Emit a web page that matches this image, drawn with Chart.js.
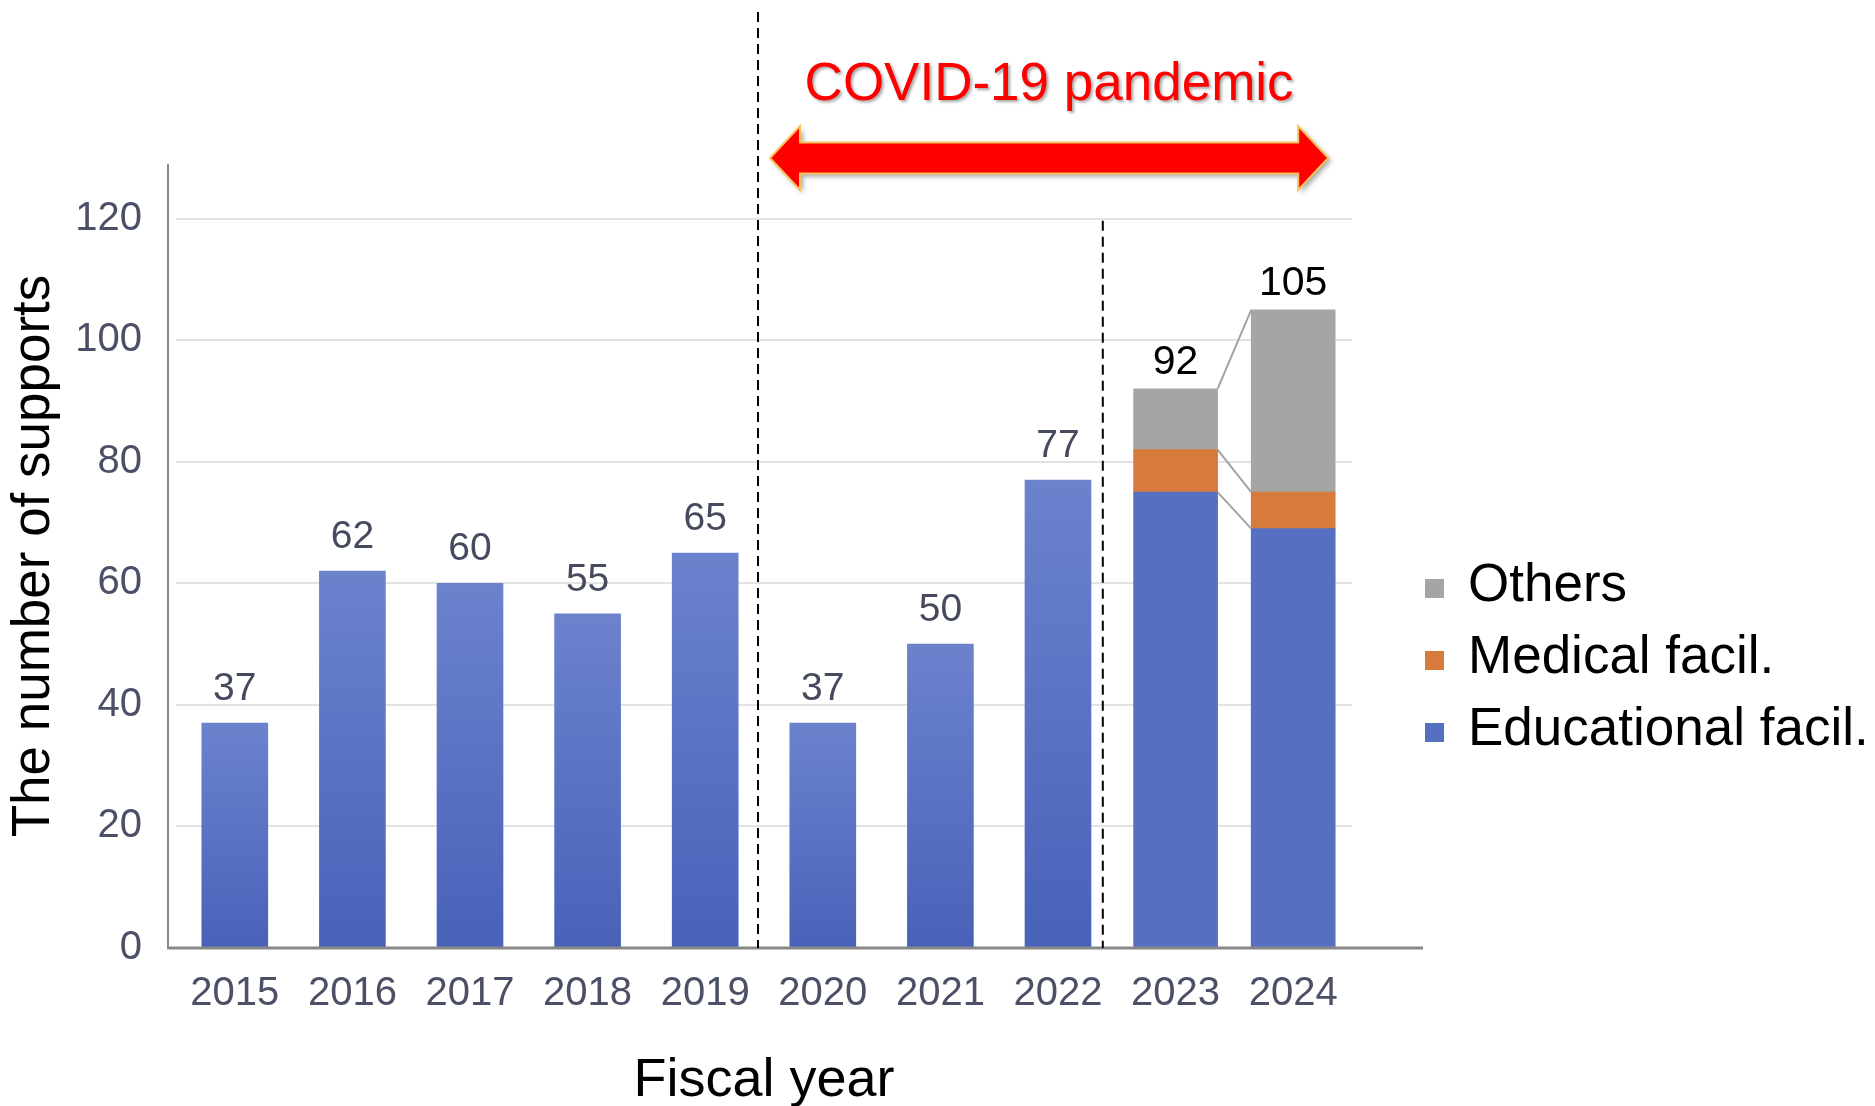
<!DOCTYPE html>
<html>
<head>
<meta charset="utf-8">
<script src="https://cdn.jsdelivr.net/npm/chart.js@4.4.1/dist/chart.umd.min.js"></script>
<style>
  html, body { margin:0; padding:0; background:#fff; }
  #wrap { position:relative; width:1875px; height:1106px; }
  #legend { position:absolute; left:1425px; top:547px; font-family:"Liberation Sans", Arial, sans-serif; }
  #legend .row { display:flex; align-items:center; height:72px; font-size:53px; line-height:72px; color:#000; white-space:nowrap; }
  #legend .box { width:19px; height:19px; margin-right:24px; margin-top:10px; flex:none; }
</style>
</head>
<body>
<div id="wrap">
  <canvas id="chart" width="1875" height="1106"></canvas>
  <div id="legend"></div>
</div>
<script>
const years = ['2015','2016','2017','2018','2019','2020','2021','2022','2023','2024'];
const totals = [37, 62, 60, 55, 65, 37, 50, 77, null, null];
const educational = [null, null, null, null, null, null, null, null, 75, 69];
const medical = [null, null, null, null, null, null, null, null, 7, 6];
const others = [null, null, null, null, null, null, null, null, 10, 30];
const yTicks = { min:0, max:129, step:20 };
const covidFrom = 5, covidTo = 9;   // index range of the pandemic arrow
const splitAt = 8;                  // second dashed line before this index

const FONT = '"Liberation Sans", Arial, sans-serif';
Chart.defaults.font.family = FONT;

function blueGradient(ctx){
  const chart = ctx.chart;
  const y = chart.scales && chart.scales.y;
  const v = ctx.parsed ? ctx.parsed.y : null;
  if(!chart.chartArea || !y || !Number.isFinite(v)) return '#5a70c4';
  const top = y.getPixelForValue(v), bot = y.getPixelForValue(0);
  if(!Number.isFinite(top) || !Number.isFinite(bot)) return '#5a70c4';
  const g = chart.ctx.createLinearGradient(0, top, 0, bot);
  g.addColorStop(0, '#6c82cd');
  g.addColorStop(1, '#4862b9');
  return g;
}

const extras = {
  id:'extras',
  afterDatasetsDraw(chart){
    const {ctx, chartArea:a, scales:{x, y}} = chart;
    ctx.save();

    // axes
    ctx.strokeStyle = '#888';
    ctx.lineWidth = 2;
    ctx.beginPath();
    ctx.moveTo(a.left - 8, a.top); ctx.lineTo(a.left - 8, a.bottom);
    ctx.stroke();
    ctx.lineWidth = 3;
    ctx.beginPath();
    ctx.moveTo(a.left - 9, a.bottom); ctx.lineTo(a.right + 71, a.bottom);
    ctx.stroke();

    // dashed separators
    const mid = i => (x.getPixelForValue(i - 1) + x.getPixelForValue(i)) / 2;
    ctx.strokeStyle = '#000';
    ctx.lineWidth = 2;
    ctx.setLineDash([10, 6]);
    ctx.beginPath();
    ctx.moveTo(mid(covidFrom) - 6, 12); ctx.lineTo(mid(covidFrom) - 6, a.bottom);
    ctx.moveTo(mid(splitAt) - 14, y.getPixelForValue(120) + 2); ctx.lineTo(mid(splitAt) - 14, a.bottom);
    ctx.stroke();
    ctx.setLineDash([]);

    // value labels on the single bars
    const totMeta = chart.getDatasetMeta(0);
    ctx.textAlign = 'center';
    ctx.textBaseline = 'alphabetic';
    ctx.fillStyle = '#454a5e';
    ctx.font = '39px ' + FONT;
    totMeta.data.forEach((bar, i) => {
      if(totals[i] == null) return;
      ctx.fillText(String(totals[i]), bar.x, bar.y - 23);
    });

    // connectors + totals on the stacked bars
    const metas = [1, 2, 3].map(k => chart.getDatasetMeta(k));
    ctx.strokeStyle = '#a3a3a3';
    ctx.lineWidth = 2;
    ctx.beginPath();
    metas.forEach(m => {
      const b0 = m.data[8], b1 = m.data[9];
      ctx.moveTo(b0.x + b0.width / 2, b0.y);
      ctx.lineTo(b1.x - b1.width / 2, b1.y);
    });
    ctx.stroke();
    ctx.fillStyle = '#000';
    ctx.font = '41px ' + FONT;
    [8, 9].forEach(i => {
      const sum = educational[i] + medical[i] + others[i];
      const top = metas[2].data[i];
      ctx.fillText(String(sum), top.x, top.y - 15);
    });

    // pandemic arrow
    const x0 = mid(covidFrom) + 6, x1 = x.getPixelForValue(covidTo) + 35;
    const cy = 158, sh = 15.5, hh = 32, hl = 30;
    ctx.shadowColor = 'rgba(0,0,0,0.35)';
    ctx.shadowBlur = 5;
    ctx.shadowOffsetX = 3;
    ctx.shadowOffsetY = 3;
    ctx.beginPath();
    ctx.moveTo(x0, cy);
    ctx.lineTo(x0 + hl, cy - hh);
    ctx.lineTo(x0 + hl, cy - sh);
    ctx.lineTo(x1 - hl, cy - sh);
    ctx.lineTo(x1 - hl, cy - hh);
    ctx.lineTo(x1, cy);
    ctx.lineTo(x1 - hl, cy + hh);
    ctx.lineTo(x1 - hl, cy + sh);
    ctx.lineTo(x0 + hl, cy + sh);
    ctx.lineTo(x0 + hl, cy + hh);
    ctx.closePath();
    ctx.fillStyle = '#ff0000';
    ctx.fill();
    ctx.shadowColor = 'transparent';
    ctx.strokeStyle = '#f7c25a';
    ctx.lineWidth = 2;
    ctx.stroke();

    // pandemic caption
    ctx.shadowColor = 'rgba(0,0,0,0.35)';
    ctx.shadowBlur = 3;
    ctx.shadowOffsetX = 2;
    ctx.shadowOffsetY = 2;
    ctx.fillStyle = '#ff0000';
    ctx.font = '53px ' + FONT;
    ctx.fillText('COVID-19 pandemic', (x0 + x1) / 2, 100);
    ctx.restore();
  }
};

const chart = new Chart(document.getElementById('chart'), {
  type:'bar',
  data:{
    labels: years,
    datasets:[
      { label:'Total', data: totals, backgroundColor: blueGradient, barThickness:66 },
      { label:'Educational facil.', data: educational, backgroundColor:'#5570c1', barThickness:84 },
      { label:'Medical facil.', data: medical, backgroundColor:'#d67b3b', barThickness:84 },
      { label:'Others', data: others, backgroundColor:'#a5a5a5', barThickness:84 }
    ]
  },
  options:{
    responsive:false,
    animation:false,
    layout:{ padding:{ top:164, right:523, bottom:0, left:0 } },
    plugins:{ legend:{ display:false }, tooltip:{ enabled:false } },
    scales:{
      x:{
        stacked:true,
        grid:{ display:false },
        border:{ display:false },
        ticks:{ color:'#4b5066', font:{ size:40 }, padding:14, maxRotation:0 },
        title:{ display:true, text:'Fiscal year', color:'#000', font:{ size:54 }, padding:{ top:0, bottom:-8 } },
        afterFit(scale){ scale.height = 158; }
      },
      y:{
        stacked:true,
        min: yTicks.min, max: yTicks.max,
        grid:{ color:'#e3e3e3', lineWidth:2, drawTicks:false },
        border:{ display:false },
        ticks:{ stepSize: yTicks.step, includeBounds:false, color:'#4b5066', font:{ size:40 }, padding:34 },
        title:{ display:true, text:'The number of supports', color:'#000', font:{ size:53 }, padding:{ top:3, bottom:0 } },
        afterFit(scale){ scale.width = 176; }
      }
    }
  },
  plugins:[extras]
});

// html legend, same order as the reference (top of stack first)
const legendEl = document.getElementById('legend');
chart.data.datasets.slice(1).reverse().forEach(ds => {
  const row = document.createElement('div');
  row.className = 'row';
  const box = document.createElement('span');
  box.className = 'box';
  box.style.background = ds.backgroundColor;
  row.appendChild(box);
  row.appendChild(document.createTextNode(ds.label));
  legendEl.appendChild(row);
});
</script>
</body>
</html>
